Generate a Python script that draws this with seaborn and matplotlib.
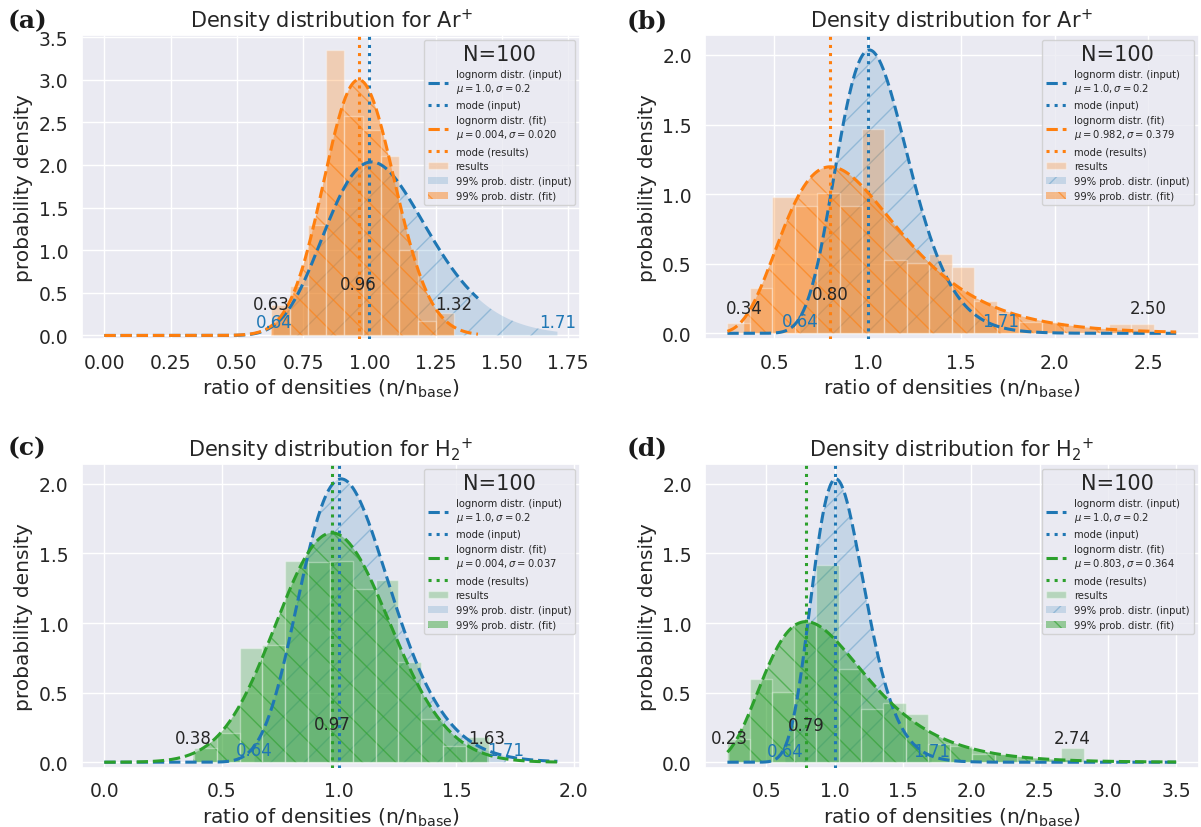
import numpy as np
import pandas as pd
import matplotlib
matplotlib.use("Agg")
import matplotlib.pyplot as plt
import seaborn as sns
from matplotlib.colors import to_rgba
from matplotlib.ticker import MultipleLocator

sns.set_theme(style="darkgrid")
plt.rcParams["font.family"] = ["DejaVu Sans"]

# ---------------- data ----------------
panel_letters = ["(a)", "(b)", "(c)", "(d)"]
species = [r"Ar$^{+}$", r"Ar$^{+}$", r"H$_2$$^{+}$", r"H$_2$$^{+}$"]
fit_colors = ["tab:orange", "tab:orange", "tab:green", "tab:green"]
fit_legend_params = [r"$\mu=0.004, \sigma=0.020$", r"$\mu=0.982, \sigma=0.379$",
                     r"$\mu=0.004, \sigma=0.037$", r"$\mu=0.803, \sigma=0.364$"]
n_samples = 100

# input lognormal distribution (shape, loc, scale) and its 99 % interval
input_shape, input_loc, input_scale = 0.1908, 0.0, 1.046
input_mode = 1.0
input_lower, input_upper = 0.64, 1.71

# fitted lognormal distributions (shape, loc, scale)
fit_shape = [0.026, 0.382, 0.034, 0.365]
fit_loc = [-4.1525, -0.011, -6.149, -0.2225]
fit_scale = [5.116, 0.939, 7.127, 1.1567]
fit_mode = [0.96, 0.80, 0.97, 0.79]
fit_lower = [0.63, 0.34, 0.38, 0.23]
fit_upper = [1.32, 2.50, 1.63, 2.74]

# x-range on which the pdf curves are evaluated
curve_start = [0.0, 0.25, 0.0, 0.215]
curve_end = [1.41, 2.65, 1.93, 3.5]

# histogram of the results (density per bin)
hist_start = [0.63, 0.25, 0.384, 0.215]
hist_width = [0.069, 0.12, 0.0964, 0.163]
hist_density_a = [0.36, 0.58, 1.30, 3.35, 2.58, 2.41, 2.10, 1.00, 0.17, 0.26]
hist_density_b = [0.071, 0.326, 0.976, 0.917, 1.007, 0.917, 1.469, 0.524, 0.507, 0.567,
                  0.476, 0.232, 0.149, 0.083, 0.083, 0.0, 0.0, 0.066, 0.066, 0.0]
hist_density_c = [0.104, 0.21, 0.82, 0.84, 1.448, 1.44, 1.448, 1.245, 1.31, 0.72,
                  0.31, 0.114, 0.18]
hist_density_d = [0.167, 0.597, 0.501, 1.01, 1.415, 0.668, 0.382, 0.425, 0.346, 0.131,
                  0.119, 0.062, 0.062, 0.0, 0.0, 0.1]
hist_density = [hist_density_a, hist_density_b, hist_density_c, hist_density_d]

# ---------------- layout ----------------
axes_rects = [[0.068, 0.589, 0.415, 0.367], [0.587, 0.589, 0.411, 0.367],
              [0.068, 0.071, 0.415, 0.367], [0.587, 0.071, 0.411, 0.367]]
ylims = [(-0.045, 3.52), (-0.043, 2.14), (-0.043, 2.14), (-0.043, 2.14)]
x_steps = [0.25, 0.5, 0.5, 0.5]
letter_pos = [(0.006, 0.989), (0.522, 0.989), (0.006, 0.473), (0.522, 0.473)]
# y positions (data units) of the value annotations: fit bounds, input bounds, mode
label_y = [(0.375, 0.156, 0.60), (0.185, 0.087, 0.286),
           (0.176, 0.085, 0.276), (0.173, 0.081, 0.27)]

TEXT = "0.15"
BLUE = "tab:blue"


def lognorm_pdf(x, s, loc, scale):
    x = np.asarray(x, dtype=float)
    y = np.zeros_like(x)
    ok = x > loc
    z = np.log((x[ok] - loc) / scale) / s
    y[ok] = np.exp(-0.5 * z ** 2) / ((x[ok] - loc) * s * np.sqrt(2 * np.pi))
    return y


fig = plt.figure(figsize=(12.01, 8.28), dpi=100)

for i in range(4):
    ax = fig.add_axes(axes_rects[i])
    fc = fit_colors[i]

    # 99 % probability regions
    xi = np.linspace(input_lower, input_upper, 400)
    fill_in = ax.fill_between(xi, lognorm_pdf(xi, input_shape, input_loc, input_scale),
                              facecolor=to_rgba(BLUE, 0.18), edgecolor=to_rgba(BLUE, 0.30),
                              hatch="/", linewidth=0, zorder=1)
    xf = np.linspace(fit_lower[i], fit_upper[i], 400)
    fill_fit = ax.fill_between(xf, lognorm_pdf(xf, fit_shape[i], fit_loc[i], fit_scale[i]),
                               facecolor=to_rgba(fc, 0.45), edgecolor=to_rgba(fc, 0.6),
                               hatch="\\", linewidth=0, zorder=1)

    # histogram of the results
    n_bins = len(hist_density[i])
    edges = hist_start[i] + hist_width[i] * np.arange(n_bins + 1)
    hist_df = pd.DataFrame({"center": 0.5 * (edges[:-1] + edges[1:]),
                            "density": hist_density[i]})
    sns.histplot(data=hist_df, x="center", weights="density", bins=list(edges),
                 stat="count", color=fc, alpha=0.27, ax=ax, zorder=2)
    bars = ax.containers[-1]
    for p in bars:
        p.set_facecolor(to_rgba(fc, 0.27))
        p.set_edgecolor(to_rgba("white", 0.35))
        p.set_linewidth(1.0)
        p.set_alpha(None)

    # pdf curves
    xc = np.linspace(curve_start[i], curve_end[i], 500)
    sns.lineplot(x=xc, y=lognorm_pdf(xc, input_shape, input_loc, input_scale),
                 color=BLUE, linestyle="--", linewidth=2.2, ax=ax, zorder=3)
    line_in = ax.lines[-1]
    mode_in = ax.axvline(input_mode, color=BLUE, linestyle=":", linewidth=2.2, zorder=3)
    sns.lineplot(x=xc, y=lognorm_pdf(xc, fit_shape[i], fit_loc[i], fit_scale[i]),
                 color=fc, linestyle="--", linewidth=2.2, ax=ax, zorder=3)
    line_fit = ax.lines[-1]
    mode_fit = ax.axvline(fit_mode[i], color=fc, linestyle=":", linewidth=2.2, zorder=3)

    # value annotations
    yb, yi, ym = label_y[i]
    ax.text(fit_lower[i], yb, f"{fit_lower[i]:.2f}", ha="center", va="center",
            fontsize=12, color=TEXT, zorder=5)
    ax.text(fit_upper[i], yb, f"{fit_upper[i]:.2f}", ha="center", va="center",
            fontsize=12, color=TEXT, zorder=5)
    ax.text(fit_mode[i], ym, f"{fit_mode[i]:.2f}", ha="center", va="center",
            fontsize=12, color=TEXT, zorder=5)
    ax.text(input_lower, yi, f"{input_lower:.2f}", ha="center", va="center",
            fontsize=12, color=BLUE, zorder=5)
    ax.text(input_upper, yi, f"{input_upper:.2f}", ha="center", va="center",
            fontsize=12, color=BLUE, zorder=5)

    ax.set_ylim(*ylims[i])
    ax.xaxis.set_major_locator(MultipleLocator(x_steps[i]))
    ax.set_title(f"Density distribution for {species[i]}", fontsize=15, color=TEXT)
    ax.set_xlabel(r"ratio of densities (n/n$_{\mathrm{base}}$)", fontsize=14.5, color=TEXT)
    ax.set_ylabel("probability density", fontsize=14.5, color=TEXT)
    ax.tick_params(labelsize=13.5, colors=TEXT)

    handles = [line_in, mode_in, line_fit, mode_fit, bars, fill_in, fill_fit]
    labels = ["lognorm distr. (input)\n" + r"$\mu=1.0, \sigma=0.2$",
              "mode (input)",
              "lognorm distr. (fit)\n" + fit_legend_params[i],
              "mode (results)",
              "results",
              "99% prob. distr. (input)",
              "99% prob. distr. (fit)"]
    leg = ax.legend(handles, labels, loc="upper right", fontsize=7.2,
                    title=f"N={n_samples}", title_fontsize=15, frameon=True,
                    framealpha=0.8, edgecolor="0.8", borderpad=0.4, labelspacing=0.5)
    leg.get_title().set_color(TEXT)
    for t in leg.get_texts():
        t.set_color(TEXT)

    fig.text(*letter_pos[i], panel_letters[i], fontsize=18, fontweight="bold",
             family="DejaVu Serif", va="top", ha="left", color="0.1")

fig.savefig("out.png", dpi=100)
